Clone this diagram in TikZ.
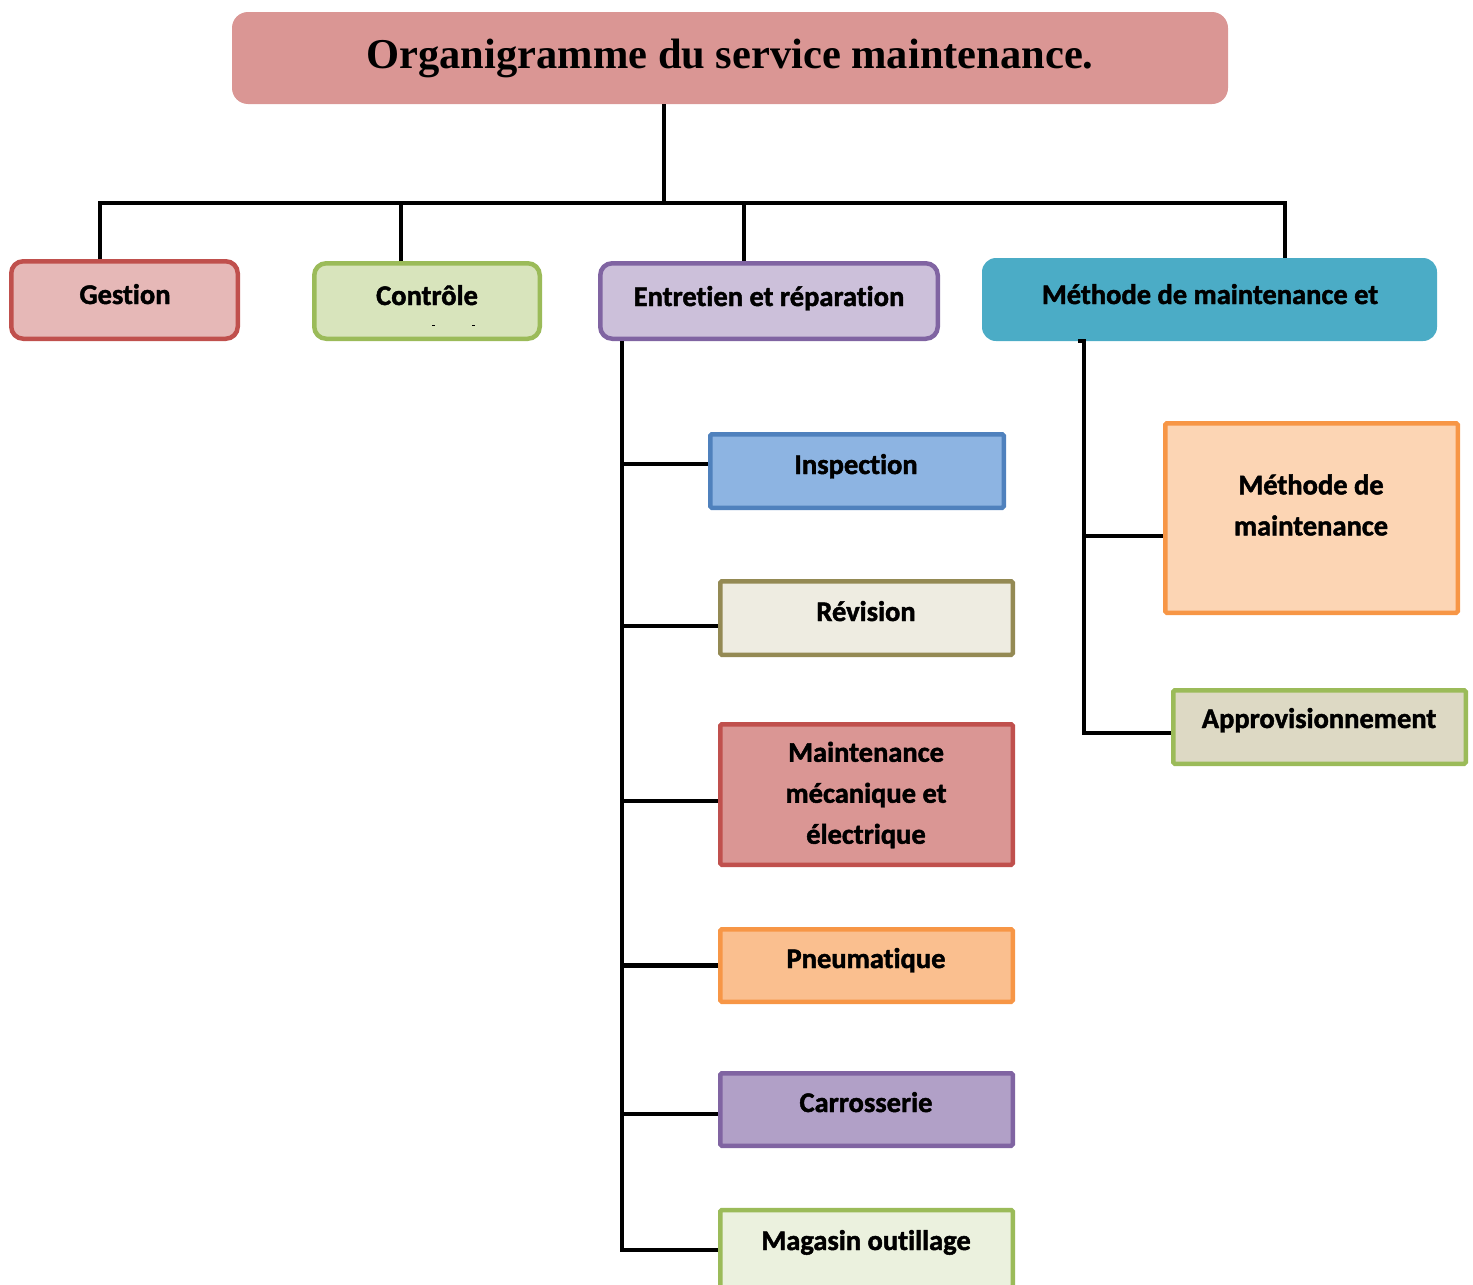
\documentclass[tikz,border=0pt]{standalone}
\usepackage{fontspec}
\setmainfont{Carlito}[RawFeature=-liga, BoldFeatures={FakeBold=1.6}]
\newfontfamily\titlefont{Liberation Serif}
\usetikzlibrary{calc}

\definecolor{titlefill}{HTML}{DA9694}
\definecolor{gestfill}{HTML}{E6B8B7}
\definecolor{redline}{HTML}{C0504D}
\definecolor{ctrlfill}{HTML}{D8E4BC}
\definecolor{greenline}{HTML}{9BBB59}
\definecolor{entrfill}{HTML}{CCC0DA}
\definecolor{purpleline}{HTML}{8064A2}
\definecolor{methfill}{HTML}{4BACC6}
\definecolor{inspfill}{HTML}{8DB4E2}
\definecolor{blueline}{HTML}{4F81BD}
\definecolor{revfill}{HTML}{EEECE1}
\definecolor{oliveline}{HTML}{948A54}
\definecolor{mmefill}{HTML}{DA9694}
\definecolor{pneufill}{HTML}{FABF8F}
\definecolor{orangeline}{HTML}{F79646}
\definecolor{carrfill}{HTML}{B1A0C7}
\definecolor{magfill}{HTML}{EBF1DE}
\definecolor{mdmfill}{HTML}{FCD5B4}
\definecolor{approfill}{HTML}{DDD9C4}

\tikzset{
  box/.style={draw, line width=4.5pt, inner sep=0pt},
  topbox/.style={box, rounded corners=12pt},
  subbox/.style={box, rounded corners=1.5pt, minimum width=292.5pt},
  label/.style={font=\fontsize{28.5}{41}\selectfont\bfseries, inner sep=0pt, align=center},
  conn/.style={line width=4.2pt, black, line join=miter},
}

\begin{document}
\begin{tikzpicture}[x=1pt, y=-1pt]
\useasboundingbox (0,0) rectangle (1473,1285);

% title banner
\node[fill=titlefill, rounded corners=16pt, minimum width=996pt, minimum height=92pt, inner sep=0pt]
  (title) at (730,58) {};
\node[font=\titlefont\fontsize{42.5}{50}\selectfont\bfseries, inner sep=0pt, anchor=base]
  (titletext) at (730,68) {Organigramme du service maintenance.};

% first level
\node[topbox, fill=gestfill, draw=redline, minimum width=226.5pt, minimum height=77.5pt]
  (gestion) at (124.5,300) {};
\node[topbox, fill=ctrlfill, draw=greenline, minimum width=225.5pt, minimum height=75.5pt]
  (controle) at (427,301) {};
\node[topbox, fill=entrfill, draw=purpleline, minimum width=337.5pt, minimum height=75.5pt]
  (entretien) at (769,301) {};
\node[fill=methfill, rounded corners=14pt, inner sep=0pt, minimum width=455pt, minimum height=83pt]
  (methode) at (1209.5,299.5) {};

\node[label, anchor=base] (gestiontext) at (125,304) {Gestion};
\node[label, anchor=base] (controletext) at (427,305) {Contrôle};
\node[label, anchor=base] (entretientext) at (769,306) {Entretien et réparation};
\node[label, anchor=base] (methodetext) at (1210,304) {Méthode de maintenance et};

% small marks inside the Contrôle box
\draw[line width=1pt] (432,325) -- (435,325);
\draw[line width=1pt] (472,325) -- (475,325);

% sections under "Entretien et réparation"
\node[subbox, fill=inspfill, draw=blueline, minimum width=293.5pt, minimum height=73.5pt]
  (inspection) at (857,471) {};
\node[subbox, fill=revfill, draw=oliveline, minimum height=73.5pt]
  (revision) at (866.5,618) {};
\node[subbox, fill=mmefill, draw=redline, minimum height=140.5pt]
  (mme) at (866.5,794.5) {};
\node[subbox, fill=pneufill, draw=orangeline, minimum height=72.5pt]
  (pneu) at (866.5,965.5) {};
\node[subbox, fill=carrfill, draw=purpleline, minimum height=72.5pt]
  (carrosserie) at (866.5,1109.5) {};
\node[subbox, fill=magfill, draw=greenline, minimum height=80pt]
  (magasin) at (866.5,1250) {};

\node[label, anchor=base] (inspectiontext) at (856,474) {Inspection};
\node[label, anchor=base] (revisiontext) at (866,621) {Révision};
\node[label] (mmetext) at (866,795) {Maintenance\\mécanique et\\électrique};
\node[label, anchor=base] (pneutext) at (866,968) {Pneumatique};
\node[label, anchor=base] (carrosserietext) at (866,1112) {Carrosserie};
\node[label, anchor=base] (magasintext) at (866,1250) {Magasin outillage};

% sections under "Méthode de maintenance et"
\node[subbox, fill=mdmfill, draw=orangeline, minimum height=189.5pt]
  (mdm) at (1311.5,518) {};
\node[subbox, fill=approfill, draw=greenline, minimum height=73.5pt]
  (appro) at (1319.5,727) {};

\node[label] (mdmtext) at (1311,505) {Méthode de\\maintenance};
\node[label, anchor=base] (approtext) at (1319,728) {Approvisionnement};

% main bus
\coordinate (bus) at (664,203);
\draw[conn] (title.south -| bus) -- (bus);
\draw[conn] ([xshift=-24.5pt]gestion.north) -- ([xshift=-24.5pt]gestion.north |- bus)
  -| ([xshift=75.5pt]methode.north);
\draw[conn] ([xshift=-26pt]controle.north) -- ([xshift=-26pt]controle.north |- bus);
\draw[conn] ([xshift=-25pt]entretien.north) -- ([xshift=-25pt]entretien.north |- bus);

% left spine
\coordinate (lspine) at ([xshift=24pt]entretien.south west);
\draw[conn] (lspine) |- (magasin.west);
\draw[conn] ([yshift=7pt]inspection.west -| lspine) -- ([yshift=7pt]inspection.west);
\draw[conn] ([yshift=-8pt]revision.west -| lspine) -- ([yshift=-8pt]revision.west);
\draw[conn] ([yshift=-6.5pt]mme.west -| lspine) -- ([yshift=-6.5pt]mme.west);
\draw[conn] (pneu.west -| lspine) -- (pneu.west);
\draw[conn] ([yshift=-4.5pt]carrosserie.west -| lspine) -- ([yshift=-4.5pt]carrosserie.west);

% right spine
\coordinate (rspine) at ([xshift=102pt]methode.south west);
\draw[conn] ([xshift=96pt]methode.south west) -- (rspine) |- ([yshift=-6pt]appro.west);
\draw[conn] ([yshift=-18pt]mdm.west -| rspine) -- ([yshift=-18pt]mdm.west);
\end{tikzpicture}
\end{document}
